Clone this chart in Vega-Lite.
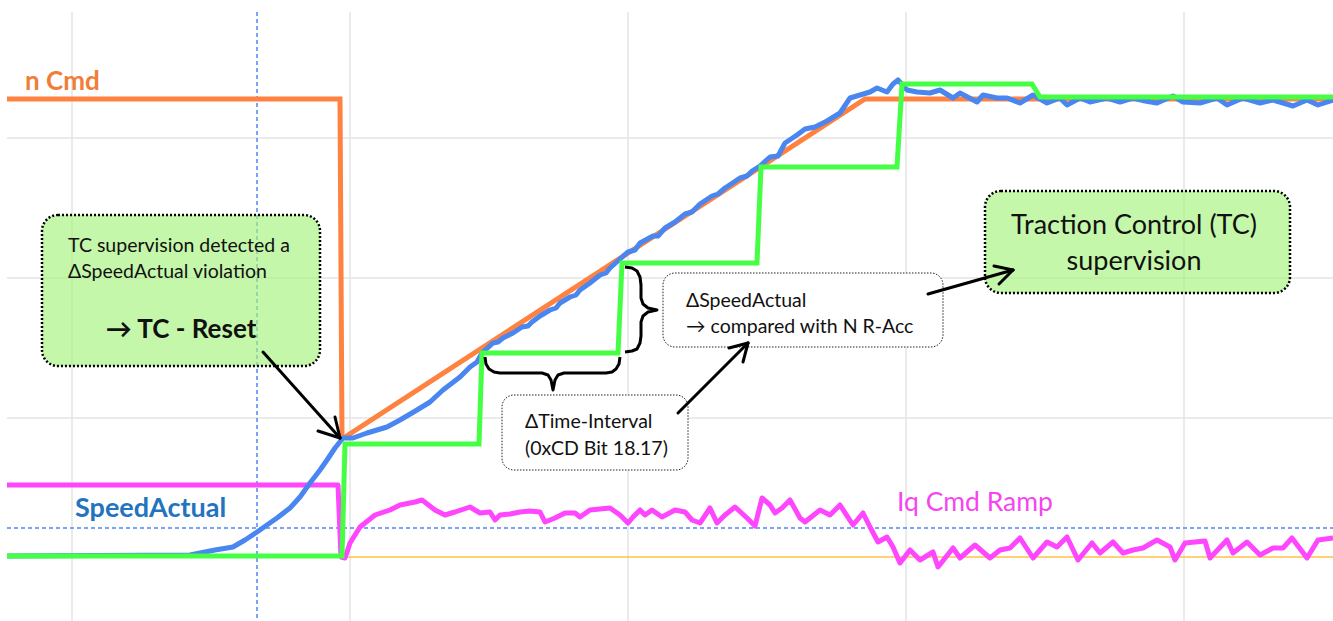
{
  "$schema": "https://vega.github.io/schema/vega-lite/v6.json",
  "width": 1333,
  "height": 621,
  "autosize": {"type": "none"},
  "padding": 0,
  "background": "white",
  "config": {"view": {"stroke": null}},
  "datasets": {
    "grid": [
      {"x": 72, "y": 12, "x2": 72, "y2": 621},
      {"x": 350, "y": 12, "x2": 350, "y2": 621},
      {"x": 628, "y": 12, "x2": 628, "y2": 621},
      {"x": 906, "y": 12, "x2": 906, "y2": 621},
      {"x": 1184, "y": 12, "x2": 1184, "y2": 621},
      {"x": 7, "y": 138, "x2": 1333, "y2": 138},
      {"x": 7, "y": 278, "x2": 1333, "y2": 278},
      {"x": 7, "y": 418, "x2": 1333, "y2": 418}
    ],
    "cursor": [
      {"x": 257, "y": 12, "x2": 257, "y2": 621},
      {"x": 7, "y": 528, "x2": 1333, "y2": 528}
    ],
    "zero": [
      {"x": 345, "y": 557, "x2": 1333, "y2": 557}
    ],
    "iq": [
      {"x": 7, "y": 485}, {"x": 338, "y": 485}, {"x": 341, "y": 557}, {"x": 345, "y": 558}, {"x": 350, "y": 543},
      {"x": 360, "y": 527}, {"x": 375, "y": 515}, {"x": 390, "y": 510}, {"x": 400, "y": 505}, {"x": 415, "y": 502},
      {"x": 422, "y": 500}, {"x": 435, "y": 510}, {"x": 445, "y": 515}, {"x": 455, "y": 512}, {"x": 470, "y": 507},
      {"x": 480, "y": 513}, {"x": 490, "y": 512}, {"x": 495, "y": 520}, {"x": 500, "y": 515}, {"x": 510, "y": 514},
      {"x": 520, "y": 512}, {"x": 530, "y": 511}, {"x": 540, "y": 512}, {"x": 545, "y": 522}, {"x": 555, "y": 518},
      {"x": 565, "y": 513}, {"x": 575, "y": 513}, {"x": 580, "y": 517}, {"x": 590, "y": 510}, {"x": 600, "y": 509},
      {"x": 610, "y": 508}, {"x": 620, "y": 515}, {"x": 628, "y": 523}, {"x": 633, "y": 517}, {"x": 640, "y": 510},
      {"x": 645, "y": 515}, {"x": 652, "y": 510}, {"x": 662, "y": 517}, {"x": 675, "y": 510}, {"x": 685, "y": 512},
      {"x": 692, "y": 520}, {"x": 700, "y": 523}, {"x": 710, "y": 508}, {"x": 717, "y": 523}, {"x": 725, "y": 515},
      {"x": 735, "y": 507}, {"x": 747, "y": 518}, {"x": 755, "y": 526}, {"x": 762, "y": 498}, {"x": 770, "y": 505},
      {"x": 775, "y": 513}, {"x": 782, "y": 508}, {"x": 790, "y": 500}, {"x": 800, "y": 518}, {"x": 805, "y": 522},
      {"x": 820, "y": 510}, {"x": 830, "y": 515}, {"x": 840, "y": 505}, {"x": 853, "y": 525}, {"x": 863, "y": 513},
      {"x": 870, "y": 527}, {"x": 878, "y": 542}, {"x": 887, "y": 537}, {"x": 893, "y": 547}, {"x": 900, "y": 563},
      {"x": 910, "y": 550}, {"x": 920, "y": 560}, {"x": 933, "y": 552}, {"x": 938, "y": 567}, {"x": 953, "y": 548},
      {"x": 960, "y": 558}, {"x": 975, "y": 545}, {"x": 990, "y": 558}, {"x": 1000, "y": 550}, {"x": 1010, "y": 548},
      {"x": 1020, "y": 538}, {"x": 1033, "y": 558}, {"x": 1047, "y": 542}, {"x": 1057, "y": 547}, {"x": 1067, "y": 537},
      {"x": 1078, "y": 560}, {"x": 1092, "y": 543}, {"x": 1100, "y": 553}, {"x": 1113, "y": 542}, {"x": 1123, "y": 553},
      {"x": 1133, "y": 550}, {"x": 1143, "y": 548}, {"x": 1157, "y": 540}, {"x": 1170, "y": 547}, {"x": 1175, "y": 560},
      {"x": 1185, "y": 543}, {"x": 1205, "y": 541}, {"x": 1210, "y": 558}, {"x": 1227, "y": 540}, {"x": 1233, "y": 553},
      {"x": 1247, "y": 542}, {"x": 1260, "y": 555}, {"x": 1273, "y": 548}, {"x": 1283, "y": 548}, {"x": 1292, "y": 538},
      {"x": 1307, "y": 558}, {"x": 1318, "y": 540}, {"x": 1333, "y": 538}
    ],
    "ncmd": [
      {"x": 7, "y": 99}, {"x": 340, "y": 99}, {"x": 342, "y": 438}, {"x": 345, "y": 437}, {"x": 865, "y": 99}, {"x": 1333, "y": 99}
    ],
    "speed": [
      {"x": 7, "y": 556}, {"x": 190, "y": 555}, {"x": 200, "y": 553}, {"x": 215, "y": 550}, {"x": 233, "y": 547},
      {"x": 245, "y": 540}, {"x": 257, "y": 532}, {"x": 277, "y": 518}, {"x": 290, "y": 508}, {"x": 300, "y": 497},
      {"x": 310, "y": 483}, {"x": 320, "y": 470}, {"x": 327, "y": 460}, {"x": 335, "y": 448}, {"x": 343, "y": 438},
      {"x": 353, "y": 438}, {"x": 367, "y": 433}, {"x": 387, "y": 427}, {"x": 400, "y": 420}, {"x": 417, "y": 410},
      {"x": 430, "y": 402}, {"x": 443, "y": 390}, {"x": 460, "y": 377}, {"x": 470, "y": 367}, {"x": 477, "y": 362},
      {"x": 482, "y": 353}, {"x": 493, "y": 343}, {"x": 498, "y": 342}, {"x": 503, "y": 338}, {"x": 513, "y": 333},
      {"x": 522, "y": 327}, {"x": 528, "y": 326}, {"x": 532, "y": 322}, {"x": 540, "y": 316}, {"x": 550, "y": 310},
      {"x": 556, "y": 308}, {"x": 560, "y": 303}, {"x": 570, "y": 297}, {"x": 576, "y": 295}, {"x": 580, "y": 290},
      {"x": 590, "y": 283}, {"x": 600, "y": 275}, {"x": 606, "y": 273}, {"x": 610, "y": 268}, {"x": 620, "y": 259},
      {"x": 628, "y": 252}, {"x": 635, "y": 250}, {"x": 640, "y": 243}, {"x": 653, "y": 236}, {"x": 658, "y": 236},
      {"x": 665, "y": 228}, {"x": 675, "y": 222}, {"x": 685, "y": 214}, {"x": 692, "y": 212}, {"x": 700, "y": 204},
      {"x": 712, "y": 196}, {"x": 718, "y": 194}, {"x": 725, "y": 188}, {"x": 740, "y": 178}, {"x": 747, "y": 176},
      {"x": 752, "y": 171}, {"x": 760, "y": 166}, {"x": 770, "y": 157}, {"x": 778, "y": 156}, {"x": 785, "y": 143},
      {"x": 797, "y": 135}, {"x": 805, "y": 129}, {"x": 815, "y": 127}, {"x": 827, "y": 121}, {"x": 840, "y": 113},
      {"x": 850, "y": 98}, {"x": 860, "y": 95}, {"x": 870, "y": 92}, {"x": 877, "y": 88}, {"x": 887, "y": 92},
      {"x": 893, "y": 84}, {"x": 898, "y": 80}, {"x": 907, "y": 90}, {"x": 917, "y": 92}, {"x": 930, "y": 93},
      {"x": 940, "y": 90}, {"x": 953, "y": 98}, {"x": 960, "y": 93}, {"x": 977, "y": 102}, {"x": 983, "y": 95},
      {"x": 997, "y": 98}, {"x": 1007, "y": 98}, {"x": 1020, "y": 103}, {"x": 1033, "y": 95}, {"x": 1047, "y": 103},
      {"x": 1060, "y": 98}, {"x": 1067, "y": 105}, {"x": 1080, "y": 98}, {"x": 1090, "y": 102}, {"x": 1107, "y": 98},
      {"x": 1120, "y": 102}, {"x": 1133, "y": 98}, {"x": 1145, "y": 101}, {"x": 1157, "y": 103}, {"x": 1173, "y": 96},
      {"x": 1183, "y": 102}, {"x": 1200, "y": 103}, {"x": 1217, "y": 98}, {"x": 1227, "y": 105}, {"x": 1243, "y": 98},
      {"x": 1260, "y": 103}, {"x": 1273, "y": 100}, {"x": 1293, "y": 106}, {"x": 1307, "y": 100}, {"x": 1318, "y": 105},
      {"x": 1333, "y": 100}
    ],
    "tcStep": [
      {"x": 7, "y": 556}, {"x": 342, "y": 556}, {"x": 345, "y": 444}, {"x": 479, "y": 444}, {"x": 482, "y": 353},
      {"x": 618, "y": 353}, {"x": 622, "y": 263}, {"x": 757, "y": 263}, {"x": 761, "y": 167}, {"x": 897, "y": 167},
      {"x": 902, "y": 84}, {"x": 1032, "y": 84}, {"x": 1040, "y": 97}, {"x": 1333, "y": 97}
    ],
    "braceH": [
      {"x": 485, "y": 357}, {"x": 486, "y": 364}, {"x": 489, "y": 369}, {"x": 494, "y": 372}, {"x": 500, "y": 373},
      {"x": 542, "y": 373}, {"x": 548, "y": 375}, {"x": 551, "y": 380}, {"x": 553, "y": 390}, {"x": 555, "y": 380},
      {"x": 558, "y": 375}, {"x": 564, "y": 373}, {"x": 606, "y": 373}, {"x": 612, "y": 372}, {"x": 616, "y": 369},
      {"x": 619, "y": 364}, {"x": 620, "y": 357}
    ],
    "braceV": [
      {"x": 625, "y": 267}, {"x": 632, "y": 268}, {"x": 637, "y": 271}, {"x": 640, "y": 277}, {"x": 641, "y": 285},
      {"x": 641, "y": 298}, {"x": 643, "y": 304}, {"x": 648, "y": 308}, {"x": 657, "y": 310}, {"x": 648, "y": 312},
      {"x": 643, "y": 316}, {"x": 641, "y": 322}, {"x": 641, "y": 336}, {"x": 640, "y": 343}, {"x": 637, "y": 349},
      {"x": 632, "y": 351}, {"x": 625, "y": 352}
    ],
    "arrows": [
      {"x": 263, "y": 352, "x2": 340, "y2": 438},
      {"x": 318, "y": 431, "x2": 340, "y2": 438},
      {"x": 335, "y": 417, "x2": 340, "y2": 438},
      {"x": 678, "y": 413, "x2": 748, "y2": 343},
      {"x": 729, "y": 348, "x2": 748, "y2": 343},
      {"x": 743, "y": 362, "x2": 748, "y2": 343},
      {"x": 928, "y": 294, "x2": 1013, "y2": 270},
      {"x": 994, "y": 266, "x2": 1013, "y2": 270},
      {"x": 999, "y": 284, "x2": 1013, "y2": 270}
    ],
    "greenBoxes": [
      {"x": 42, "y": 215, "x2": 320, "y2": 366},
      {"x": 985, "y": 191, "x2": 1290, "y2": 293}
    ],
    "noteBoxes": [
      {"x": 502, "y": 395, "x2": 688, "y2": 470},
      {"x": 663, "y": 273, "x2": 943, "y2": 347}
    ],
    "labels": [
      {"role": "ncmd", "x": 25, "y": 90, "text": "n Cmd"},
      {"role": "speed", "x": 75, "y": 517, "text": "SpeedActual"},
      {"role": "iq", "x": 897, "y": 511, "text": "Iq Cmd Ramp"},
      {"role": "box1", "x": 68, "y": 252, "text": "TC supervision detected a"},
      {"role": "box1", "x": 68, "y": 278, "text": "ΔSpeedActual violation"},
      {"role": "reset", "x": 181, "y": 338, "text": "→ TC - Reset"},
      {"role": "note", "x": 525, "y": 428, "text": "ΔTime-Interval"},
      {"role": "note", "x": 525, "y": 455, "text": "(0xCD Bit 18.17)"},
      {"role": "note", "x": 686, "y": 307, "text": "ΔSpeedActual"},
      {"role": "note", "x": 686, "y": 333, "text": "→ compared with N R-Acc"},
      {"role": "tc", "x": 1134, "y": 234, "text": "Traction Control (TC)"},
      {"role": "tc", "x": 1134, "y": 270, "text": "supervision"}
    ]
  },
  "encoding": {
    "x": {"field": "x", "type": "quantitative", "scale": {"domain": [0, 1333], "nice": false, "zero": false}, "axis": null},
    "y": {"field": "y", "type": "quantitative", "scale": {"domain": [0, 621], "nice": false, "zero": false, "reverse": true}, "axis": null}
  },
  "layer": [
    {"data": {"name": "grid"}, "mark": {"type": "rule", "stroke": "#E4E4E4", "strokeWidth": 1.5},
     "encoding": {"x2": {"field": "x2"}, "y2": {"field": "y2"}}},
    {"data": {"name": "cursor"}, "mark": {"type": "rule", "stroke": "#4F86F7", "strokeWidth": 1.5, "strokeDash": [4, 3]},
     "encoding": {"x2": {"field": "x2"}, "y2": {"field": "y2"}}},
    {"data": {"name": "zero"}, "mark": {"type": "rule", "stroke": "#FFC24A", "strokeWidth": 1.5},
     "encoding": {"x2": {"field": "x2"}, "y2": {"field": "y2"}}},
    {"data": {"name": "iq"}, "mark": {"type": "line", "stroke": "#FF46FF", "strokeWidth": 5, "strokeJoin": "round"}, "encoding": {}},
    {"data": {"name": "ncmd"}, "mark": {"type": "line", "stroke": "#FF8241", "strokeWidth": 5}, "encoding": {}},
    {"data": {"name": "speed"}, "mark": {"type": "line", "stroke": "#4A86F0", "strokeWidth": 5, "strokeJoin": "round"}, "encoding": {}},
    {"data": {"name": "tcStep"}, "mark": {"type": "line", "stroke": "#44FF44", "strokeWidth": 5}, "encoding": {}},
    {"data": {"name": "braceH"}, "mark": {"type": "line", "stroke": "black", "strokeWidth": 3, "strokeJoin": "round"}, "encoding": {}},
    {"data": {"name": "braceV"}, "mark": {"type": "line", "stroke": "black", "strokeWidth": 3, "strokeJoin": "round"},
     "encoding": {"order": {"field": "y", "type": "quantitative"}}},
    {"data": {"name": "greenBoxes"}, "mark": {"type": "rect", "fill": "#A6F27C", "fillOpacity": 0.65, "stroke": "black", "strokeWidth": 2.5, "strokeDash": [2, 2], "cornerRadius": 16},
     "encoding": {"x2": {"field": "x2"}, "y2": {"field": "y2"}}},
    {"data": {"name": "noteBoxes"}, "mark": {"type": "rect", "fill": "white", "stroke": "#222222", "strokeWidth": 1, "strokeDash": [1.5, 1.5], "cornerRadius": 12},
     "encoding": {"x2": {"field": "x2"}, "y2": {"field": "y2"}}},
    {"data": {"name": "arrows"}, "mark": {"type": "rule", "stroke": "black", "strokeWidth": 3, "strokeCap": "round"},
     "encoding": {"x2": {"field": "x2"}, "y2": {"field": "y2"}}},
    {"data": {"name": "labels"}, "transform": [{"filter": "datum.role === 'ncmd'"}],
     "mark": {"type": "text", "align": "left", "baseline": "alphabetic", "font": "Lato", "fontSize": 26, "fontWeight": "bold", "fill": "#F07D38"},
     "encoding": {"text": {"field": "text"}}},
    {"data": {"name": "labels"}, "transform": [{"filter": "datum.role === 'speed'"}],
     "mark": {"type": "text", "align": "left", "baseline": "alphabetic", "font": "Lato", "fontSize": 27, "fontWeight": "bold", "fill": "#2373BF"},
     "encoding": {"text": {"field": "text"}}},
    {"data": {"name": "labels"}, "transform": [{"filter": "datum.role === 'iq'"}],
     "mark": {"type": "text", "align": "left", "baseline": "alphabetic", "font": "Lato", "fontSize": 26.5, "fill": "#F545F0"},
     "encoding": {"text": {"field": "text"}}},
    {"data": {"name": "labels"}, "transform": [{"filter": "datum.role === 'box1' || datum.role === 'note'"}],
     "mark": {"type": "text", "align": "left", "baseline": "alphabetic", "font": "Lato", "fontSize": 19.5, "fill": "#111111"},
     "encoding": {"text": {"field": "text"}}},
    {"data": {"name": "labels"}, "transform": [{"filter": "datum.role === 'reset'"}],
     "mark": {"type": "text", "align": "center", "baseline": "alphabetic", "font": "Lato", "fontSize": 26, "fontWeight": "bold", "fill": "#111111"},
     "encoding": {"text": {"field": "text"}}},
    {"data": {"name": "labels"}, "transform": [{"filter": "datum.role === 'tc'"}],
     "mark": {"type": "text", "align": "center", "baseline": "alphabetic", "font": "Lato", "fontSize": 27, "fill": "#111111"},
     "encoding": {"text": {"field": "text"}}}
  ]
}
